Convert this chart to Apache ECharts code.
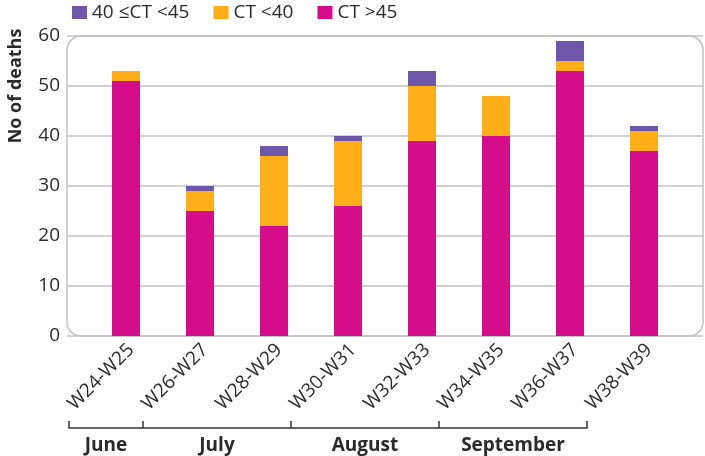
<!DOCTYPE html>
<html>
<head>
<meta charset="utf-8">
<script src="https://cdn.jsdelivr.net/npm/echarts@6/dist/echarts.min.js"></script>
<style>
html,body{margin:0;padding:0;background:#fff;}
#chart{width:705px;height:456px;}
</style>
</head>
<body>
<div id="chart"></div>
<script>
// ---- data ----
var categories = ['W24-W25','W26-W27','W28-W29','W30-W31','W32-W33','W34-W35','W36-W37','W38-W39'];
var ctOver45   = [51, 25, 22, 26, 39, 40, 53, 37];   // CT >45
var ctUnder40  = [2, 4, 14, 13, 11, 8, 2, 4];        // CT <40
var ct40to45   = [0, 1, 2, 1, 3, 0, 4, 1];           // 40 ≤CT <45
var yTicks = [0, 10, 20, 30, 40, 50, 60];
var months = ['June', 'July', 'August', 'September'];
var monthBounds = [0, 1, 3, 5, 7];   // in category-index units
var monthCenters = [0.5, 2, 4, 6];

var FONT = '"Open Sans", "DejaVu Sans", sans-serif';
var TXT = '#2a2a2a';
var GRIDC = '#c2c2c2';

var chart = echarts.init(document.getElementById('chart'), null, {renderer: 'canvas'});

var option = {
  backgroundColor: '#fff',
  animation: false,
  textStyle: {fontFamily: FONT},
  legend: {
    left: 67, top: -2,
    itemWidth: 15, itemHeight: 13, itemGap: 24,
    icon: 'rect',
    textStyle: {fontSize: 19, color: TXT, fontFamily: FONT},
    data: [
      {name: '40 ≤CT <45', textStyle: {width: 104}},
      {name: 'CT <40', textStyle: {width: 66}},
      {name: 'CT >45'}
    ]
  },
  grid: [
    {left: 67, top: 36, width: 636, height: 300},
    {left: 89, top: 36, width: 592, height: 300},
    {left: 69, top: 420, width: 518, height: 8},
    {left: 94, top: 36, width: 592, height: 300}
  ],
  xAxis: [
    {gridIndex: 0, type: 'value', show: false, min: 0, max: 1},
    {gridIndex: 1, type: 'category', data: categories,
      axisLine: {show: false}, axisTick: {show: false}, axisLabel: {show: false}
    },
    {gridIndex: 2, type: 'value', min: 0, max: 7,
      axisLine: {show: true, lineStyle: {color: '#333', width: 1.5}},
      axisTick: {show: true, inside: true, length: 7, customValues: monthBounds, lineStyle: {color: '#333', width: 1.5}},
      axisLabel: {show: true, customValues: monthCenters, margin: 8, fontSize: 19, fontWeight: 'bold', color: TXT, fontFamily: FONT,
        formatter: function (v) { return months[monthCenters.indexOf(v)] || ''; }},
      splitLine: {show: false}
    },
    {gridIndex: 3, type: 'category', data: categories,
      axisLine: {show: false}, axisTick: {show: false},
      axisLabel: {rotate: 45, fontSize: 19, color: TXT, margin: 11, fontFamily: FONT, interval: 0}
    }
  ],
  yAxis: [
    {gridIndex: 0, type: 'value', min: yTicks[0], max: yTicks[yTicks.length - 1], interval: 10,
      axisLine: {show: false}, axisTick: {show: false},
      axisLabel: {fontSize: 19, color: TXT, margin: 7, fontFamily: FONT},
      splitLine: {show: true, lineStyle: {color: GRIDC, width: 1.5}}
    },
    {gridIndex: 1, type: 'value', min: 0, max: 60, show: false, splitLine: {show: false}},
    {gridIndex: 2, type: 'value', show: false, splitLine: {show: false}},
    {gridIndex: 3, type: 'value', min: 0, max: 60, show: false, splitLine: {show: false}}
  ],
  graphic: [
    {type: 'rect', z: 0, silent: true,
      shape: {x: 67, y: 36, width: 636, height: 300, r: 14},
      style: {fill: 'none', stroke: GRIDC, lineWidth: 1.5}},
    {type: 'text', x: 16, y: 86, rotation: Math.PI / 2, silent: true,
      style: {text: 'No of deaths', fill: TXT, font: 'bold 18px ' + FONT, align: 'center', verticalAlign: 'middle'}}
  ],
  series: [
    {name: 'CT >45', type: 'bar', stack: 's', xAxisIndex: 1, yAxisIndex: 1, data: ctOver45, barWidth: 28,
      itemStyle: {color: '#D40E8B'}},
    {name: 'CT <40', type: 'bar', stack: 's', xAxisIndex: 1, yAxisIndex: 1, data: ctUnder40, barWidth: 28,
      itemStyle: {color: '#FDAE19'}},
    {name: '40 ≤CT <45', type: 'bar', stack: 's', xAxisIndex: 1, yAxisIndex: 1, data: ct40to45, barWidth: 28,
      itemStyle: {color: '#6C57A9'}}
  ]
};
chart.setOption(option);
</script>
</body>
</html>
